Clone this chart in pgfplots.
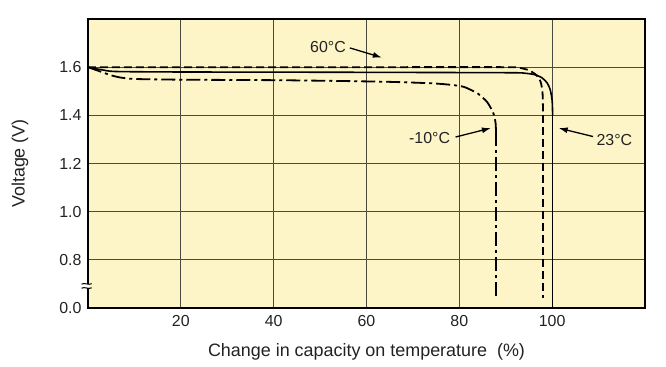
\documentclass[border=0pt]{standalone}
\usepackage{fontspec}
\setmainfont{Liberation Sans}
\usepackage{pgfplots}
\pgfplotsset{compat=1.18}
\usetikzlibrary{arrows.meta}
\definecolor{bgcream}{HTML}{FDF5C8}
\definecolor{gridc}{HTML}{4A4A40}
\definecolor{txt}{HTML}{222222}
\begin{document}
\begin{tikzpicture}
\begin{axis}[
  name=ax,
  scale only axis,
  width=557bp, height=289bp,
  xmin=0, xmax=120, ymin=0.6, ymax=1.8,
  axis background/.style={fill=bgcream},
  axis line style={black, line width=1.4bp},
  xtick={20,40,60,80,100},
  ytick={0.6,0.8,1.0,1.2,1.4,1.6},
  yticklabels={0.0,0.8,1.0,1.2,1.4,1.6},
  major tick length=0pt,
  grid=major,
  major grid style={gridc, line width=1.1bp},
  tick label style={font=\fontsize{16}{18}\selectfont, text=txt},
  /pgf/number format/assume math mode=true,
  xticklabel style={yshift=-4bp},
  yticklabel style={xshift=-3bp},
  every axis x label/.style={at={(rel axis cs:0.5,0)}, yshift=-44bp, anchor=center, font=\fontsize{18}{20}\selectfont, text=txt},
  every axis y label/.style={at={(rel axis cs:0,0.5)}, xshift=-68bp, rotate=90, anchor=center, font=\fontsize{18}{20}\selectfont, text=txt},
  xlabel={Change in capacity on temperature\ \ (\%)},
  ylabel={Voltage (V)},
  clip=false,
]
% 60 C (dashed)
\addplot[black, line width=1.8bp, dash pattern=on 8bp off 4bp, smooth, tension=0.4] coordinates {
 (0,1.6) (30,1.6) (60,1.6) (90,1.6) (93,1.597) (95,1.587) (96.6,1.567) (97.5,1.54) (97.9,1.50) (98,1.45) (98,1.40)
};
\addplot[black, line width=1.8bp, dash pattern=on 8bp off 4bp] coordinates {
 (98,1.40) (98,0.64)
};
% 23 C (solid)
\addplot[black, line width=1.6bp, smooth, tension=0.4] coordinates {
 (0,1.6) (3,1.589) (6,1.582) (20,1.580) (50,1.579) (90,1.577) (94,1.575) (96.2,1.569) (97.8,1.556) (98.9,1.535) (99.6,1.505) (100,1.46) (100.1,1.40)
};
\addplot[black, line width=1.6bp] coordinates {
 (100.1,1.40) (100.1,0.6)
};
% -10 C (dash-dot)
\addplot[black, line width=1.8bp, dash pattern=on 14bp off 4bp on 3bp off 4bp, smooth, tension=0.4] coordinates {
 (0,1.6) (2.5,1.583) (5,1.566) (7,1.557) (10,1.551) (20,1.548) (40,1.546) (53,1.543) (65,1.539) (74,1.533) (78,1.527) (81,1.518) (84,1.49) (86,1.455) (87.3,1.41) (87.8,1.37) (87.9,1.33)
};
\addplot[black, line width=1.8bp, dash pattern=on 14bp off 4bp on 3bp off 4bp] coordinates {
 (87.9,1.33) (87.9,0.65)
};
% annotations
\node[font=\fontsize{16}{18}\selectfont, text=txt] at (axis cs:51.7,1.684) {60°C};
\draw[-{Latex[length=9bp,width=6bp]}, line width=1.3bp] (axis cs:56.4,1.680) -- (axis cs:63.3,1.640);
\node[font=\fontsize{16}{18}\selectfont, text=txt] at (axis cs:73.6,1.306) {-10°C};
\draw[-{Latex[length=9bp,width=6bp]}, line width=1.3bp] (axis cs:79.2,1.310) -- (axis cs:86.8,1.347);
\node[font=\fontsize{16}{18}\selectfont, text=txt] at (axis cs:113.4,1.298) {23°C};
\draw[-{Latex[length=9bp,width=6bp]}, line width=1.3bp] (axis cs:108.8,1.312) -- (axis cs:101.4,1.347);
% axis break mark
\fill[white] (axis cs:-1.2,0.683) rectangle (axis cs:0.25,0.700);
\draw[line width=1bp] (axis cs:-1.4,0.682) .. controls (axis cs:-0.7,0.690) and (axis cs:0.1,0.676) .. (axis cs:0.8,0.684);
\draw[line width=1bp] (axis cs:-1.4,0.699) .. controls (axis cs:-0.7,0.707) and (axis cs:0.1,0.693) .. (axis cs:0.8,0.701);
\end{axis}
\path[use as bounding box] (ax.south west) ++(-88bp,-59bp) rectangle ++(666bp,367bp);
\end{tikzpicture}
\end{document}
